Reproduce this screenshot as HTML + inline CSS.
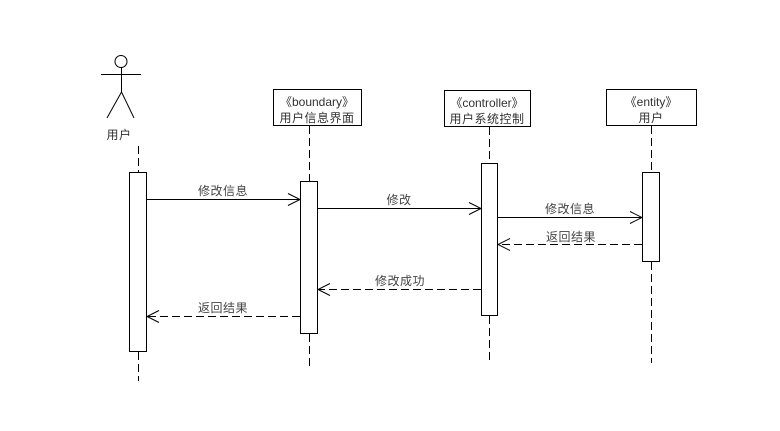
<!DOCTYPE html>
<html><head><meta charset="utf-8"><style>
html,body{margin:0;padding:0;background:#fff;}
svg{display:block;}
text{font-family:"Liberation Sans","Noto Sans CJK SC",sans-serif;font-size:12px;}
.l{letter-spacing:0.5px;}
</style></head><body>
<svg width="780" height="431" viewBox="0 0 780 431" xmlns="http://www.w3.org/2000/svg">
<g stroke="#000" stroke-width="1" fill="none">
  <!-- actor -->
  <circle cx="121" cy="61.5" r="6"/>
  <line x1="101" y1="74.5" x2="141" y2="74.5"/>
  <line x1="121.5" y1="67.5" x2="121.5" y2="92"/>
  <line x1="121.5" y1="92" x2="107" y2="118"/>
  <line x1="121.5" y1="92" x2="134" y2="118"/>
  <!-- lifelines -->
  <g stroke-dasharray="8,4">
    <line x1="138.5" y1="146" x2="138.5" y2="172"/>
    <line x1="138.5" y1="352" x2="138.5" y2="381"/>
    <line x1="309.5" y1="126" x2="309.5" y2="181"/>
    <line x1="309.5" y1="334" x2="309.5" y2="369"/>
    <line x1="489.5" y1="127" x2="489.5" y2="163"/>
    <line x1="489.5" y1="316" x2="489.5" y2="360"/>
    <line x1="651.5" y1="126" x2="651.5" y2="172"/>
    <line x1="651.5" y1="262" x2="651.5" y2="363"/>
  </g>
  <!-- boxes -->
  <rect x="273.5" y="89.5" width="88" height="36" fill="#fff"/>
  <rect x="444.5" y="90.5" width="86" height="36" fill="#fff"/>
  <rect x="606.5" y="89.5" width="90" height="36" fill="#fff"/>
  <!-- activations -->
  <rect x="129.5" y="172.5" width="17" height="179" fill="#fff"/>
  <rect x="300.5" y="181.5" width="17" height="152" fill="#fff"/>
  <rect x="481.5" y="163.5" width="16" height="152" fill="#fff"/>
  <rect x="642.5" y="172.5" width="17" height="89" fill="#fff"/>
  <!-- messages -->
  <line x1="147" y1="199.5" x2="300" y2="199.5"/>
  <polyline points="288,193.5 300,199.5 288,205.5"/>
  <line x1="318" y1="208.5" x2="481" y2="208.5"/>
  <polyline points="469,202.5 481,208.5 469,214.5"/>
  <line x1="498" y1="217.5" x2="642" y2="217.5"/>
  <polyline points="630,211.5 642,217.5 630,223.5"/>
  <g stroke-dasharray="8,4">
    <line x1="642" y1="244.5" x2="498" y2="244.5"/>
    <line x1="481" y1="289.5" x2="318" y2="289.5"/>
    <line x1="300" y1="316.5" x2="147" y2="316.5"/>
  </g>
  <polyline points="510,238.5 498,244.5 510,250.5"/>
  <polyline points="330,283.5 318,289.5 330,295.5"/>
  <polyline points="159,310.5 147,316.5 159,322.5"/>
</g>
<g fill="#333" text-anchor="middle">
  <text class="l" x="119" y="139">用户</text>
  <text x="317" y="106">《boundary》</text>
  <text class="l" x="317" y="122">用户信息界面</text>
  <text x="487" y="107">《controller》</text>
  <text class="l" x="487" y="123">用户系统控制</text>
  <text x="651" y="106">《entity》</text>
  <text class="l" x="651" y="122">用户</text>
</g>
<g fill="#444" text-anchor="middle" class="l">
  <text class="l" x="223" y="195">修改信息</text>
  <text class="l" x="399" y="204">修改</text>
  <text class="l" x="570" y="213">修改信息</text>
  <text class="l" x="571" y="241">返回结果</text>
  <text class="l" x="400" y="285">修改成功</text>
  <text class="l" x="223" y="312">返回结果</text>
</g>
</svg>
</body></html>
